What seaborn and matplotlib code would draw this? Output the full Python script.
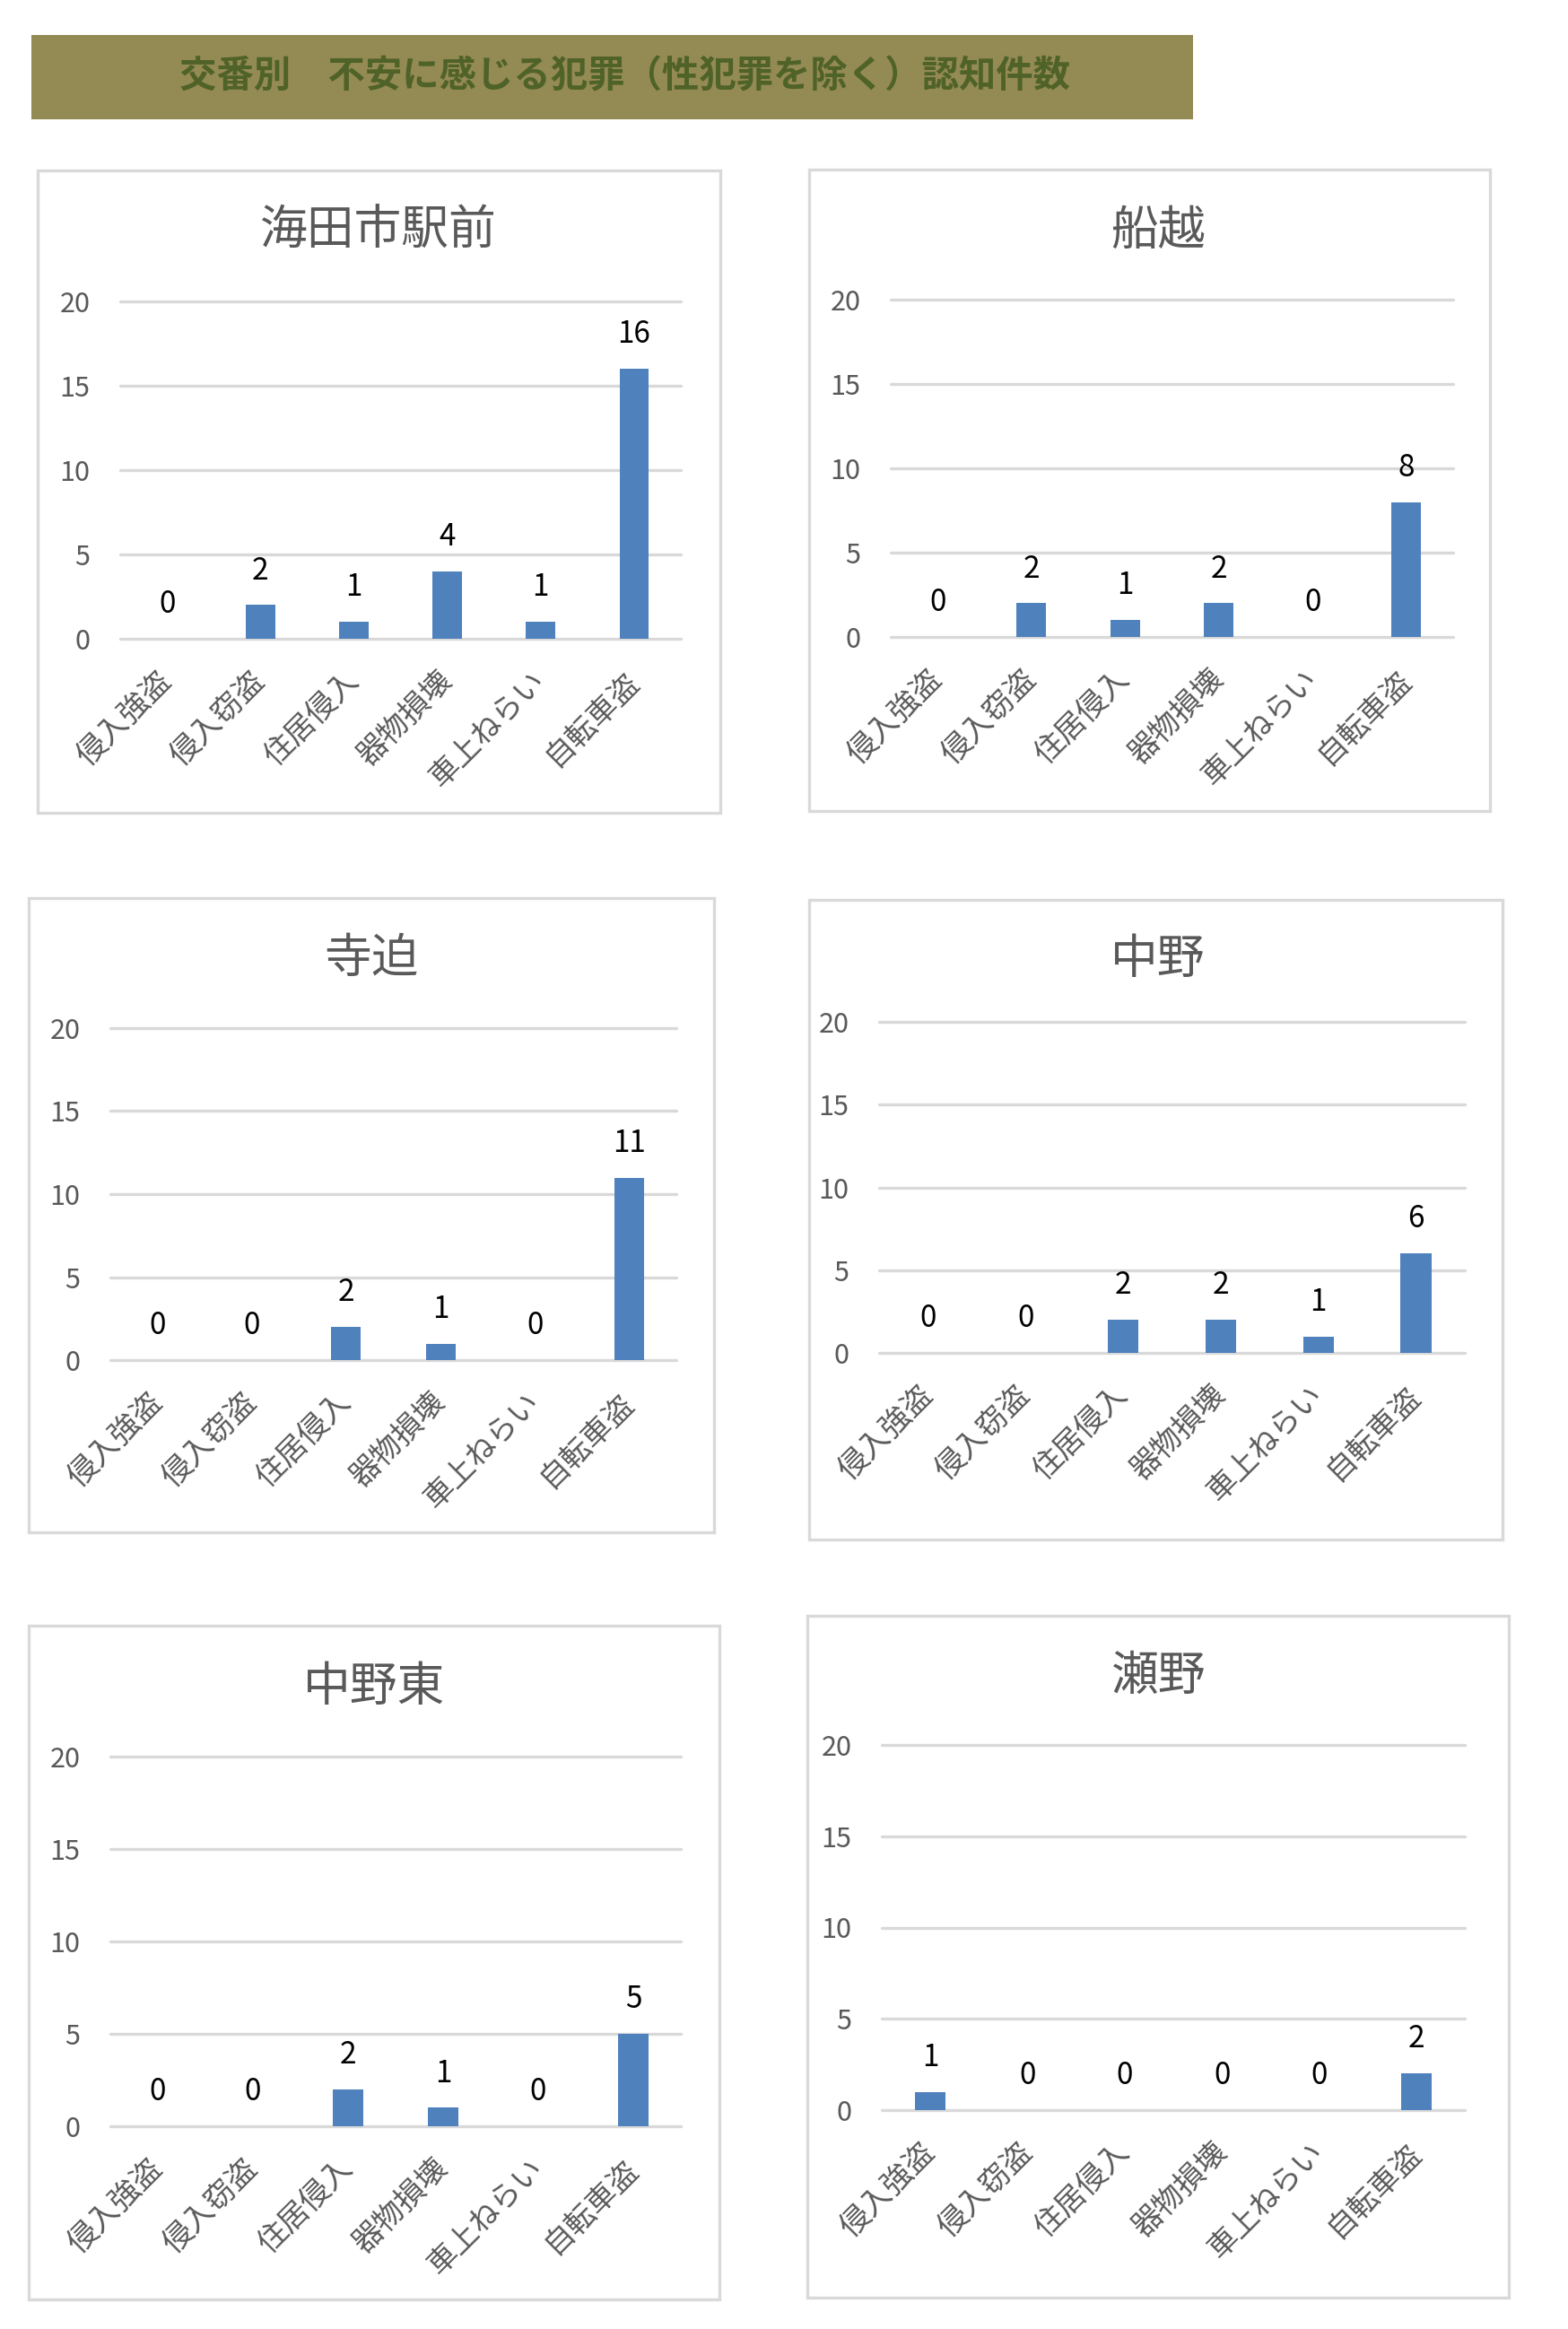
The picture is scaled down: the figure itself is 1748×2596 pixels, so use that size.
import matplotlib
matplotlib.use('Agg')
import matplotlib.pyplot as plt
from matplotlib.patches import Rectangle
import seaborn as sns

sns.set_theme(style='white')
plt.rcParams['font.family'] = ['Noto Sans CJK JP', 'DejaVu Sans']

# data
categories = ['侵入強盗', '侵入窃盗', '住居侵入', '器物損壊', '車上ねらい', '自転車盗']
stations = ['海田市駅前', '船越', '寺迫', '中野', '中野東', '瀬野']
kaitaichi = [0, 2, 1, 4, 1, 16]
funakoshi = [0, 2, 1, 2, 0, 8]
terasako = [0, 0, 2, 1, 0, 11]
nakano = [0, 0, 2, 2, 1, 6]
nakano_higashi = [0, 0, 2, 1, 0, 5]
seno = [1, 0, 0, 0, 0, 2]
series = [kaitaichi, funakoshi, terasako, nakano, nakano_higashi, seno]
yticks = [0, 5, 10, 15, 20]
main_title = '交番別　不安に感じる犯罪（性犯罪を除く）認知件数'

W, H = 1748, 2596
BAR = '#4F81BD'
GRID = '#D9D9D9'
TXT = '#595959'

# pixel layout: axes (x0, x1, y_top, y_bottom), frame (l, r, t, b), title (x, y)
axes_px = [(134, 759, 336, 712), (993, 1620, 334, 710),
           (123, 754, 1146, 1516), (980, 1633, 1139, 1508),
           (123, 759, 1958, 2370), (983, 1633, 1945, 2352)]
frame_px = [(42, 803, 190, 906), (902, 1661, 189, 904),
            (32, 796, 1001, 1708), (902, 1675, 1003, 1716),
            (32, 802, 1812, 2563), (900, 1682, 1801, 2561)]
title_px = [(422, 257), (1291, 257), (414, 1068), (1291, 1070),
            (417, 1880), (1291, 1868)]


def fx(x):
    return x / W


def fy(y):
    return 1 - y / H


fig = plt.figure(figsize=(W / 100, H / 100), dpi=100)
fig.patch.set_facecolor('white')

# banner
fig.patches.append(Rectangle((fx(35), fy(133)), fx(1330) - fx(35), fy(39) - fy(133),
                             transform=fig.transFigure, facecolor='#948A54',
                             edgecolor='none', zorder=-1))
fig.text(fx(697), fy(86), main_title, ha='center', va='center',
         fontsize=29.8, fontweight='bold', color='#4F6228')

for i, vals in enumerate(series):
    l, r, t, b = frame_px[i]
    fig.patches.append(Rectangle((fx(l), fy(b)), fx(r) - fx(l), fy(t) - fy(b),
                                 transform=fig.transFigure, facecolor='white',
                                 edgecolor=GRID, linewidth=2.4, zorder=-1))
    x0, x1, yt, yb = axes_px[i]
    ax = fig.add_axes([fx(x0), fy(yb), fx(x1) - fx(x0), fy(yt) - fy(yb)])
    ax.patch.set_alpha(0)

    sns.barplot(x=categories, y=vals, ax=ax, color=BAR, width=0.315,
                saturation=1, linewidth=0, zorder=2)
    ax.bar_label(ax.containers[0], padding=15, fontsize=24, color='black')

    for v in yticks:
        ax.axhline(v, color=GRID, linewidth=2.4, zorder=0.5, clip_on=False)

    ax.set_ylim(0, 20)
    ax.set_xlim(-0.5, len(categories) - 0.5)
    ax.set_yticks(yticks)
    ax.set_xticks(range(len(categories)))
    ax.set_xticklabels(categories, rotation=45, ha='right', va='center',
                       rotation_mode='anchor')
    ax.tick_params(axis='x', length=0, pad=30, labelsize=24, labelcolor=TXT)
    ax.tick_params(axis='y', length=0, pad=24, labelsize=22, labelcolor=TXT)
    ax.set(xlabel=None, ylabel=None)
    sns.despine(ax=ax, left=True, bottom=True)

    tx, ty = title_px[i]
    fig.text(fx(tx), fy(ty), stations[i], ha='center', va='center',
             fontsize=38, color=TXT)

fig.savefig('out.png', dpi=100)
